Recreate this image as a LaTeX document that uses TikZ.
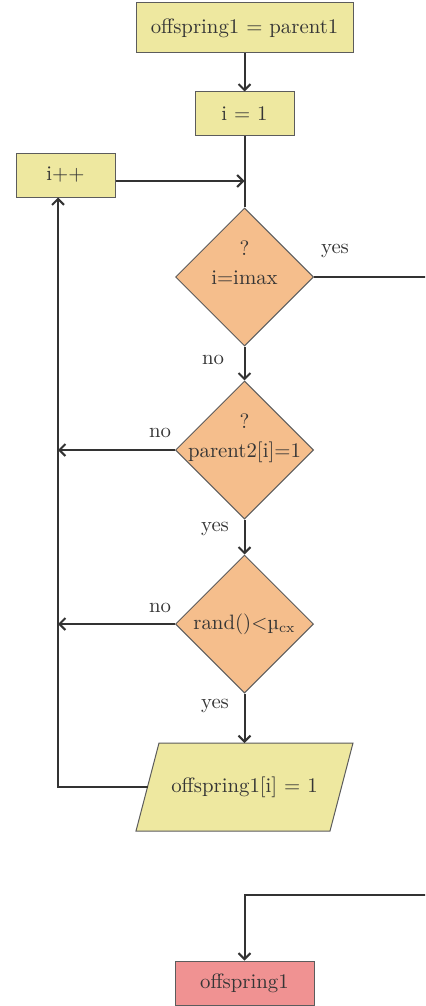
\documentclass[tikz,border=0pt]{standalone}
\usetikzlibrary{shapes.geometric,arrows.meta}
\definecolor{boxyel}{HTML}{EEE8A0}
\definecolor{decor}{HTML}{F5BE8C}
\definecolor{endred}{HTML}{F09292}
\definecolor{linec}{HTML}{333333}
\definecolor{txtc}{HTML}{353535}
\newcommand{\zb}[1]{\makebox[0pt]{#1}}
\begin{document}
\begin{tikzpicture}[x=0.5pt,y=-0.5pt,
  every node/.style={text=txtc,font=\fontsize{10.4}{12.5}\selectfont},
  procbox/.style={draw=linec!80,line width=0.5pt,fill=boxyel,rectangle,inner sep=0pt,minimum height=22pt},
  decbox/.style={draw=linec!80,line width=0.5pt,fill=decor,diamond,aspect=1,inner sep=0pt,minimum width=69pt,minimum height=69pt,align=center},
  iofill/.style={draw=linec!80,line width=0.5pt,fill=boxyel},
  endbox/.style={draw=linec!80,line width=0.5pt,fill=endred,rectangle,inner sep=0pt,minimum height=22pt},
  conn/.style={draw=linec,line width=1pt},
  arr/.style={conn,-{Straight Barb[length=3pt,width=6pt]}},
  lbl/.style={inner sep=0pt}]
\clip (0,0) rectangle (425,1006);
\node[procbox,minimum width=108.5pt,minimum height=25pt] (b1) at (244.5,28) {offspring1 = parent1};
\node[procbox,minimum width=49.5pt] (b2) at (244.5,114) {i = 1};
\node[procbox,minimum width=49.5pt] (ipp) at (65.5,175) {i++};
\node[decbox] (d1) at (244.5,277) {\zb{?}\\[2pt]\zb{i=imax}\\[2pt]\mbox{}};
\node[decbox] (d2) at (244.5,450) {\zb{?}\\[2pt]\zb{parent2[i]=1}\\[2pt]\mbox{}};
\node[decbox] (d3) at (244.5,624) {\zb{rand()<µ$_{\mathrm{cx}}$}};
\path[iofill] (136,831) -- (330,831) -- (353,743) -- (159,743) -- cycle;
\node[inner sep=0pt] (par) at (244.5,787) {offspring1[i] = 1};
\coordinate (parN) at (244.5,743);
\coordinate (parW) at (147.5,787);
\node[endbox,minimum width=69.5pt] (out) at (244.5,983) {offspring1};
\coordinate (j1) at (244.5,181);
\coordinate (lb) at (58,787);
\coordinate (cR) at (470,895);
\node[lbl] (yes1) at (335,251) {yes};
\node[lbl] (no1) at (213,360) {no};
\node[lbl] (no2) at (160,433) {no};
\node[lbl] (yes2) at (215,529) {yes};
\node[lbl] (no3) at (160,608) {no};
\node[lbl] (yes3) at (215,706) {yes};
\draw[arr] (b1) -- (b2);
\draw[conn] (b2) -- (d1);
\draw[arr] (ipp.east |- j1) -- (j1);
\draw[arr] (d1) -- (d2);
\draw[arr] (d2) -- (d3);
\draw[arr] (d3) -- (parN);
\draw[arr] (d2.west) -- (d2.west -| lb);
\draw[arr] (d3.west) -- (d3.west -| lb);
\draw[arr] (parW) -- (lb) -- (ipp.south -| lb);
\draw[conn] (d1.east) -| (cR);
\draw[arr] (cR) -| (out.north);
\end{tikzpicture}
\end{document}
